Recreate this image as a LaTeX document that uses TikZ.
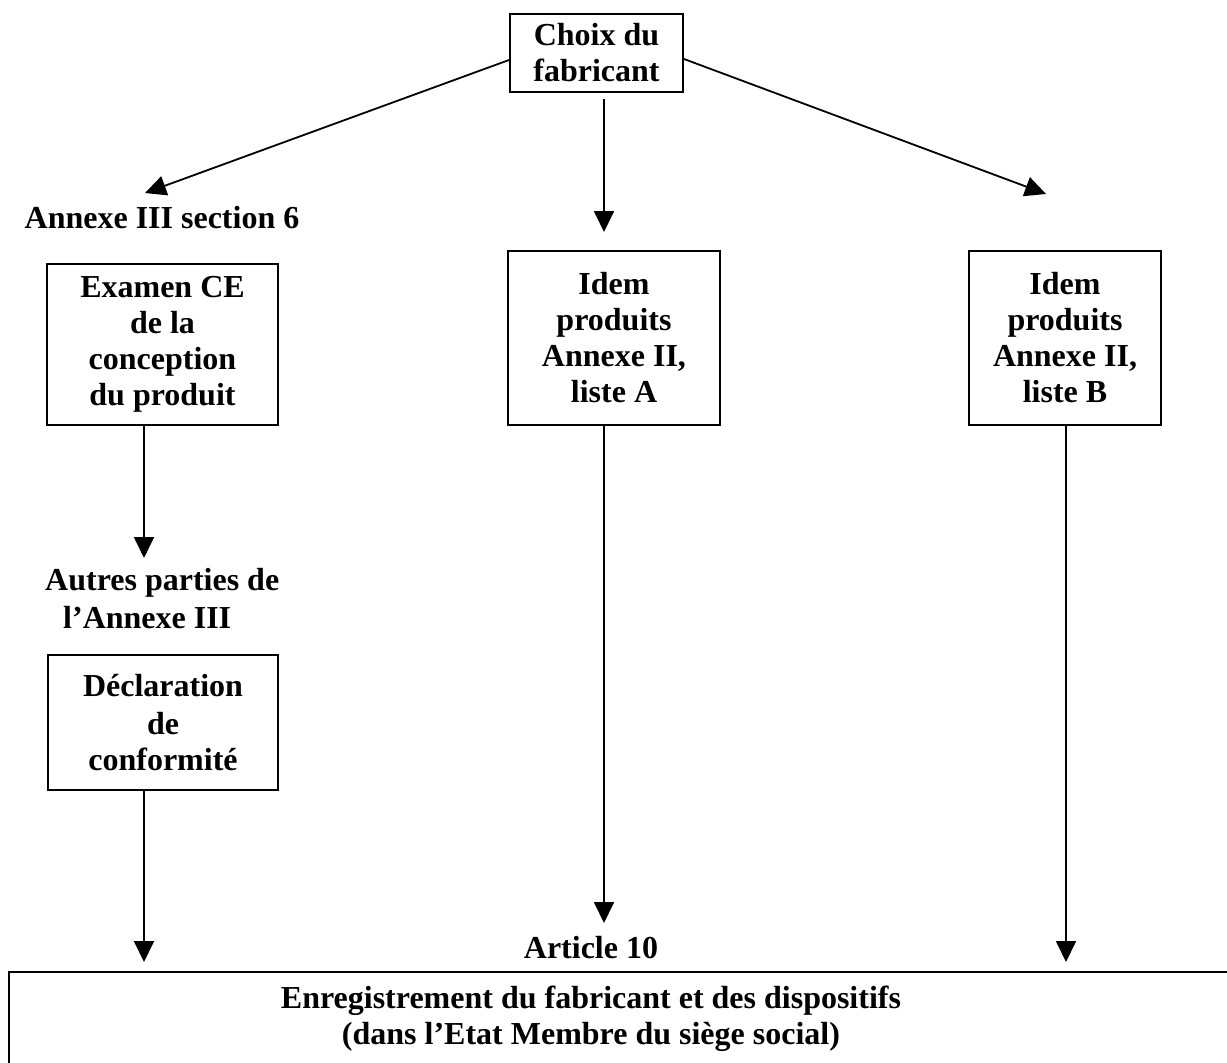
\documentclass[tikz,border=0pt]{standalone}
\usepackage{fontspec}
\setmainfont{Liberation Serif}
\usetikzlibrary{arrows.meta}
\begin{document}
\begin{tikzpicture}[x=1pt,y=-1pt,
  every node/.style={font=\fontsize{32}{36}\selectfont\bfseries, inner sep=0pt},
  box/.style={draw, line width=2pt, rectangle, align=center},
  lbl/.style={align=center},
  arr/.style={line width=1.8pt, -{Triangle[length=21pt,width=20pt]}}]
\useasboundingbox (0,0) rectangle (1227,1063);
\clip (0,0) rectangle (1227,1063);

% top choice box
\node[box, minimum width=173pt, minimum height=78pt] (choix) at (596.5,53) {Choix du\\fabricant};

% three branches
\node[lbl] (sec6) at (162,218) {Annexe III section 6};
\node[box, minimum width=231pt, minimum height=161pt] (examen) at (162.5,344.5)
  {Examen CE\\de la\\conception\\du produit};
\node[box, minimum width=212pt, minimum height=174pt] (idemA) at (614,338)
  {Idem\\produits\\Annexe II,\\liste A};
\node[box, minimum width=192pt, minimum height=174pt] (idemB) at (1065,338)
  {Idem\\produits\\Annexe II,\\liste B};

\node[align=left, anchor=west] (autres) at (45,599)
  {Autres parties de\\[2pt]\hspace*{18pt}l’Annexe III};
\node[box, minimum width=230pt, minimum height=135pt] (decl) at (163,722.5)
  {Déclaration\\[2pt]de\\conformité};

\node[lbl] (art10) at (591,948) {Article 10};

% registration box (runs past the right and bottom edges)
\draw[line width=2.4pt] (9,1090) |- (1250,972);
\node[lbl] (enreg) at (591,1018.5)
  {Enregistrement du fabricant et des dispositifs\\(dans l’Etat Membre du siège social)};

% connector ends
\coordinate (tL) at (145,193);
\coordinate (tM) at (604,232);
\coordinate (tR) at (1046,194);
\coordinate (tE) at (144,558);
\coordinate (tD) at (144,962);
\coordinate (tA) at (604,923);
\coordinate (tB) at (1066,962);

\draw[arr] ([yshift=-7pt]choix.west) -- (tL);
\draw[arr] ([yshift=-6pt]choix.south -| tM) -- (tM);
\draw[arr] ([yshift=-6pt]choix.east) -- (tR);
\draw[arr] (examen.south -| tE) -- (tE);
\draw[arr] (decl.south -| tD) -- (tD);
\draw[arr] (idemA.south -| tA) -- (tA);
\draw[arr] (idemB.south -| tB) -- (tB);
\end{tikzpicture}
\end{document}
